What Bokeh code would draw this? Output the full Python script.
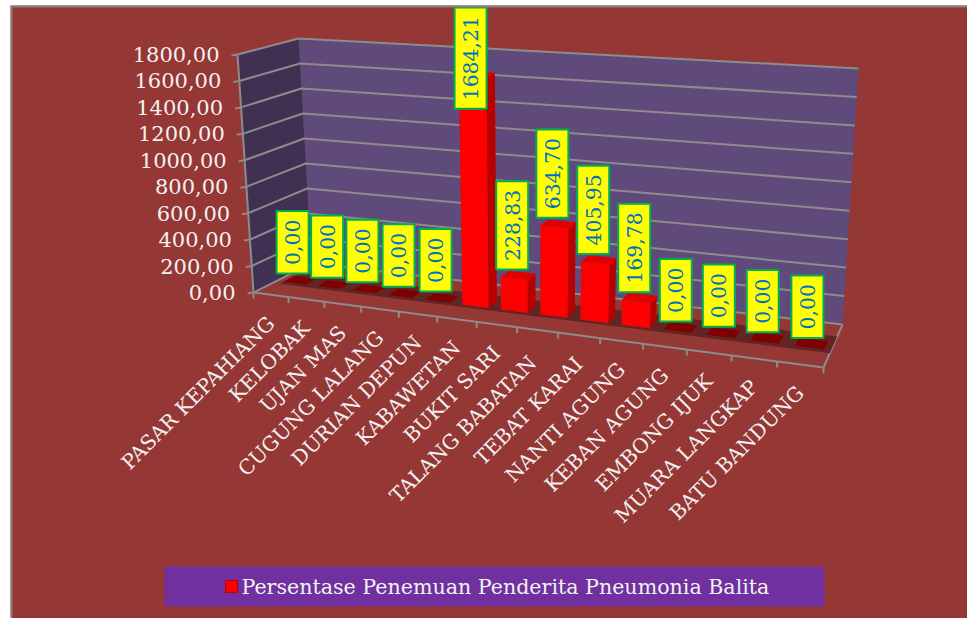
import numpy as np
from bokeh.embed import file_html
from bokeh.resources import INLINE
from bokeh.plotting import figure
from bokeh.models import Range1d, Span
from bokeh.core.properties import value

categories = ["PASAR KEPAHIANG", "KELOBAK", "UJAN MAS", "CUGUNG LALANG", "DURIAN DEPUN",
              "KABAWETAN", "BUKIT SARI", "TALANG  BABATAN", "TEBAT KARAI", "NANTI AGUNG",
              "KEBAN AGUNG", "EMBONG IJUK", "MUARA LANGKAP", "BATU BANDUNG"]
values = [0.0, 0.0, 0.0, 0.0, 0.0, 1684.21, 228.83, 634.70, 405.95, 169.78, 0.0, 0.0, 0.0, 0.0]
y_ticks = [0, 200, 400, 600, 800, 1000, 1200, 1400, 1600, 1800]
series_name = "Persentase Penemuan Penderita Pneumonia Balita"

FONT = value("DejaVu Serif")
BG, WALL, SIDE = "#953735", "#604A7B", "#403152"
GRID = "#8C8C8C"
N = len(categories)
VMAX = 1800.0

FLOOR = np.array([(253, 292), (823, 367), (842, 324), (311, 263)], float)
TOP = np.array([(237, 54), (842, 92), (858, 68), (298, 38)], float)


def bilinear(Q, u, w):
    s = 0.849 * u + 0.151 * u * u   # perspective foreshortening along the category axis
    return (1 - w) * ((1 - s) * Q[0] + s * Q[1]) + w * ((1 - s) * Q[3] + s * Q[2])


def proj(u, v, w):
    a, b = bilinear(FLOOR, u, w), bilinear(TOP, u, w)
    return tuple(a + (b - a) * v / VMAX)


def poly(*pts):
    return [q[0] for q in pts], [q[1] for q in pts]


p = figure(width=957, height=613, x_range=Range1d(10, 967), y_range=Range1d(618, 5),
           output_backend="svg", toolbar_location=None, min_border=0,
           background_fill_color=BG, border_fill_color=BG, outline_line_color=None)
p.styles = {"margin-left": "10px", "margin-top": "5px"}
p.xaxis.visible = False
p.yaxis.visible = False
p.grid.visible = False
p.add_layout(Span(location=6, dimension="width", line_color="#808080", line_width=2))
p.add_layout(Span(location=11, dimension="height", line_color="#808080", line_width=2))

# walls
x, y = poly(proj(0, 0, 1), proj(0, VMAX, 1), proj(1, VMAX, 1), proj(1, 0, 1))
p.patch(x, y, fill_color=WALL, line_color=None)
x, y = poly(proj(0, 0, 0), proj(0, VMAX, 0), proj(0, VMAX, 1), proj(0, 0, 1))
p.patch(x, y, fill_color=SIDE, line_color=None)

# gridlines
gx, gy = [], []
for t in y_ticks:
    x, y = poly(proj(0, t, 0), proj(0, t, 1), proj(1, t, 1))
    gx.append(x); gy.append(y)
    a = proj(0, t, 0)
    gx.append([a[0], a[0] - 6]); gy.append([a[1], a[1] + 1])
x, y = poly(proj(0, 0, 0), proj(0, VMAX, 0)); gx.append(x); gy.append(y)
x, y = poly(proj(0, 0, 0), proj(1, 0, 0), proj(1, 0, 1)); gx.append(x); gy.append(y)
for i in range(N + 1):
    a = proj(i / N, 0, 0)
    gx.append([a[0], a[0]]); gy.append([a[1], a[1] + 6])
p.multi_line(gx, gy, line_color=GRID, line_width=2)

# floor band
x, y = poly(proj(0.015, 0, 0.33), proj(1, 0, 0.33), proj(1, 0, 0.72), proj(0.015, 0, 0.72))
p.patch(x, y, fill_color="#632523", line_color=None)

U0, U1, W0, W1 = 0.20, 0.85, 0.40, 0.59
lab_x, lab_y, lab_h, lab_t = [], [], [], []
for i, v in enumerate(values):
    a, b = (i + U0) / N, (i + U1) / N
    if v <= 0:
        x, y = poly(proj(a, 0, W0), proj(b, 0, W0), proj(b, 0, W1), proj(a, 0, W1))
        p.patch(x, y, fill_color="#800000", line_color=None)
    else:
        x, y = poly(proj(b, 0, W0), proj(b, v, W0), proj(b, v, W1), proj(b, 0, W1))
        p.patch(x, y, fill_color="#B80000", line_color="#B80000", line_width=1.5, line_join="round")
        x, y = poly(proj(a, v, W0), proj(b, v, W0), proj(b, v, W1), proj(a, v, W1))
        p.patch(x, y, fill_color="#E00000", line_color="#E00000", line_width=1.5, line_join="round")
        x, y = poly(proj(a, 0, W0), proj(b, 0, W0), proj(b, v, W0), proj(a, v, W0))
        p.patch(x, y, fill_color="#FF0000", line_color="#E80808", line_width=1.5, line_join="round")
    txt = f"{v:.2f}".replace(".", ",")
    h = 17 + 20.4 * (0.636 * (len(txt) - 1) + 0.318)
    c = proj((i + 0.5) / N, v, W0)
    bottom = c[1] - 9.5
    top = max(bottom - h, 7)
    lab_x.append(c[0] - 1); lab_y.append(top + h / 2); lab_h.append(h); lab_t.append(txt)

p.rect(lab_x, lab_y, width=32, height=lab_h, fill_color="#FFFF00", line_color="#00B050", line_width=2)
p.text(lab_x, lab_y, text=lab_t, angle=np.pi / 2, text_align="center", text_baseline="middle",
       text_font=FONT, text_font_size="20.4px", text_color="#0070C0")

# value-axis labels
tx, ty = [], []
for t in y_ticks:
    a = proj(0, t, 0)
    tx.append(a[0] - 18); ty.append(a[1])
p.text(tx, ty, text=[f"{t},00" for t in y_ticks], text_align="right", text_baseline="middle",
       text_font=FONT, text_font_size="21px", text_color="#F2F2F2")

# category labels
cx, cy = [], []
for i in range(N):
    a = proj((i + 0.5) / N, 0, 0)
    cx.append(a[0]); cy.append(a[1] + 25)
p.text(cx, cy, text=categories, angle=np.pi / 4, text_align="right", text_baseline="middle",
       text_font=FONT, text_font_size="20.2px", text_color="#F2F2F2")

# legend
p.quad(left=[164], right=[824], top=[566], bottom=[606], fill_color="#7030A0", line_color=None)
p.rect([231], [586], width=12, height=12, fill_color="#FF0000", line_color="#C00000", line_width=1)
p.text([241], [586], text=[series_name], text_align="left", text_baseline="middle",
       text_font=FONT, text_font_size="20.6px", text_color="#F2F2F2")

open("out.html", "w").write(file_html(p, INLINE))
